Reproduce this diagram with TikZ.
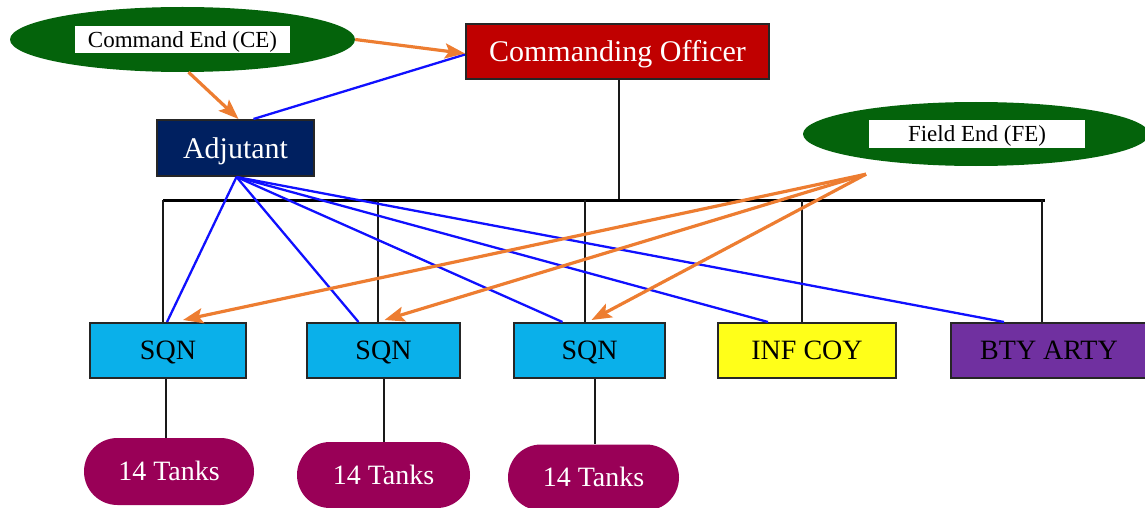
\documentclass[tikz,border=0pt]{standalone}
\usepackage{fontspec}
\setmainfont{Liberation Serif}
\usetikzlibrary{shapes.geometric,shapes.misc,arrows.meta}
\definecolor{ceGreen}{HTML}{04630B}
\definecolor{coRed}{HTML}{C00000}
\definecolor{adjBlue}{HTML}{002060}
\definecolor{sqnCyan}{HTML}{0AB0EA}
\definecolor{infYellow}{HTML}{FFFF19}
\definecolor{btyPurple}{HTML}{7030A0}
\definecolor{tankMag}{HTML}{990057}
\definecolor{arrOrange}{HTML}{ED7D31}
\definecolor{linkBlue}{HTML}{1010FF}
\tikzset{
  capcenter/.style={text height=18.5pt,text depth=0pt},
  box/.style={draw=black!85,line width=2pt,inner sep=0pt,capcenter,font=\fontsize{28}{32}\selectfont},
  endellipse/.style={ellipse,fill=ceGreen,draw=none,inner sep=0pt},
  endlabel/.style={fill=white,inner sep=0pt,text height=15.5pt,text depth=0pt,font=\fontsize{23}{27}\selectfont},
  tank/.style={rounded rectangle,fill=tankMag,text=white,inner sep=0pt,capcenter,font=\fontsize{28}{32}\selectfont},
  tree/.style={line width=2.2pt,black!90},
  bus/.style={line width=3pt,black},
  blink/.style={line width=2.3pt,linkBlue},
  oarr/.style={line width=3.2pt,arrOrange,-{Stealth[length=20pt,width=15pt,inset=4pt]}}
}
\begin{document}
\begin{tikzpicture}[x=1pt,y=-1pt]
\useasboundingbox (0,0) rectangle (1145,508);
% ellipses
\node[endellipse,minimum width=345pt,minimum height=65pt] (ce) at (182.5,39.5) {};
\node[endlabel,minimum width=215pt,minimum height=27pt] (cel) at (182.5,39.5) {Command End (CE)};
\node[endellipse,minimum width=346pt,minimum height=64pt] (fe) at (976,134) {};
\node[endlabel,minimum width=216pt,minimum height=28pt] (fel) at (977,134) {Field End (FE)};
% top boxes
\node[box,fill=coRed,text=white,minimum width=303pt,minimum height=55pt,text height=20pt,font=\fontsize{30}{34}\selectfont] (co) at (617.5,51.5) {Commanding Officer};
\node[box,fill=adjBlue,text=white,minimum width=157pt,minimum height=56pt,text height=20pt,font=\fontsize{30}{34}\selectfont] (adj) at (235.5,148) {Adjutant};
% lower boxes
\node[box,fill=sqnCyan,minimum width=156pt,minimum height=55pt] (sqn1) at (168,350.5) {SQN};
\node[box,fill=sqnCyan,minimum width=153pt,minimum height=55pt] (sqn2) at (383.5,350.5) {SQN};
\node[box,fill=sqnCyan,minimum width=151pt,minimum height=55pt] (sqn3) at (589.5,350.5) {SQN};
\node[box,fill=infYellow,minimum width=178pt,minimum height=55pt] (inf) at (807,350.5) {INF COY};
\node[box,fill=btyPurple,minimum width=196pt,minimum height=55pt] (bty) at (1049,350.5) {BTY ARTY};
% tanks
\node[tank,minimum width=170pt,minimum height=67pt] (t1) at (169,471.5) {14 Tanks};
\node[tank,minimum width=173pt,minimum height=66pt] (t2) at (383.5,475) {14 Tanks};
\node[tank,minimum width=171pt,minimum height=66pt] (t3) at (593.5,477.5) {14 Tanks};
% tree
\coordinate (busL) at (163,200);
\coordinate (busR) at (1045,200);
\draw[tree] ([xshift=1.5pt]co.south) -- ([xshift=1.5pt]co.south |- busL);
\draw[bus] (busL) -- (busR);
\draw[tree] ([xshift=-5pt]sqn1.north |- busL) -- ([xshift=-5pt]sqn1.north);
\draw[tree] ([xshift=-5.5pt]sqn2.north |- busL) -- ([xshift=-5.5pt]sqn2.north);
\draw[tree] ([xshift=-4.5pt]sqn3.north |- busL) -- ([xshift=-4.5pt]sqn3.north);
\draw[tree] ([xshift=-5pt]inf.north |- busL) -- ([xshift=-5pt]inf.north);
\draw[tree] ([xshift=-7pt]bty.north |- busL) -- ([xshift=-7pt]bty.north);
\draw[tree] ([xshift=-2pt]sqn1.south) -- ([xshift=-3pt]t1.north);
\draw[tree] ([xshift=0.5pt]sqn2.south) -- ([xshift=0.5pt]t2.north);
\draw[tree] ([xshift=5.5pt]sqn3.south) -- ([xshift=1.5pt]t3.north);
% blue links
\draw[blink] ([xshift=18pt]adj.north) -- ([yshift=-3pt]co.west);
\draw[blink] ([xshift=1pt]adj.south) -- ([xshift=-1pt]sqn1.north);
\draw[blink] ([xshift=1pt]adj.south) -- ([xshift=-25pt]sqn2.north);
\draw[blink] ([xshift=1pt]adj.south) -- ([xshift=-27pt]sqn3.north);
\draw[blink] ([xshift=1pt]adj.south) -- ([xshift=-39pt]inf.north);
\draw[blink] ([xshift=1pt]adj.south) -- ([xshift=-45pt]bty.north);
% orange arrows
\draw[oarr] (ce.east) -- ([yshift=-2pt]co.west);
\draw[oarr] ([xshift=6pt]ce.south) -- ([xshift=3pt]adj.north);
\draw[oarr] ([xshift=-110pt,yshift=-8pt]fe.south) -- ([xshift=15pt,yshift=2pt]sqn1.north);
\draw[oarr] ([xshift=-110pt,yshift=-8pt]fe.south) -- ([xshift=1pt,yshift=2pt]sqn2.north);
\draw[oarr] ([xshift=-110pt,yshift=-8pt]fe.south) -- ([xshift=2pt,yshift=2pt]sqn3.north);
\end{tikzpicture}
\end{document}
